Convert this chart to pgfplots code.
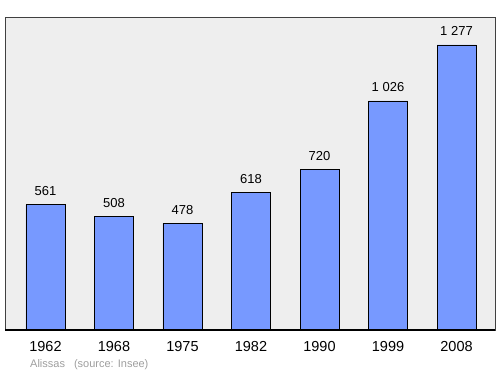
\documentclass[border=0pt]{standalone}
\usepackage{pgfplots}
\pgfplotsset{compat=1.18}
\usepackage{fontspec}
\setmainfont{Liberation Sans}
\definecolor{barblue}{HTML}{7799FF}
\definecolor{bg}{HTML}{EEEEEE}
\begin{document}
\begin{tikzpicture}[x=1pt,y=1pt]
\path (0,0) rectangle (500,374);
\begin{axis}[at={(5pt,44pt)}, anchor=south west, scale only axis,
  width=490pt, height=313pt,
  xmin=-0.591, xmax=6.562, ymin=0, ymax=1402,
  axis background/.style={fill=bg},
  axis line style={draw=black!75, line width=0.8pt},
  ytick=\empty, xtick={0,...,6},
  xticklabels={1962,1968,1975,1982,1990,1999,2008},
  major tick length=0pt,
  xticklabel style={font=\fontsize{14.5}{14.5}\selectfont, anchor=base, yshift=-22pt},
  ybar, bar width=39pt,
  point meta=explicit symbolic,
  nodes near coords,
  every node near coord/.append style={font=\fontsize{13}{13}\selectfont, anchor=base, yshift=9pt, text=black},
  clip=false]
\addplot[fill=barblue, draw=black, line width=0.7pt] table[meta=lab] {
x y lab
0 561 561
1 508 508
2 478 478
3 618 618
4 720 720
5 1026 {1 026}
6 1277 {1 277}
};
\draw[black, line width=1.3pt] (rel axis cs:0,0) -- (rel axis cs:1,0);
\end{axis}
\node[anchor=base west, inner sep=0pt, text=black!38, font=\fontsize{11}{11}\selectfont] at (30,6) {Alissas\hspace{9pt}(source: Insee)};
\end{tikzpicture}
\end{document}
